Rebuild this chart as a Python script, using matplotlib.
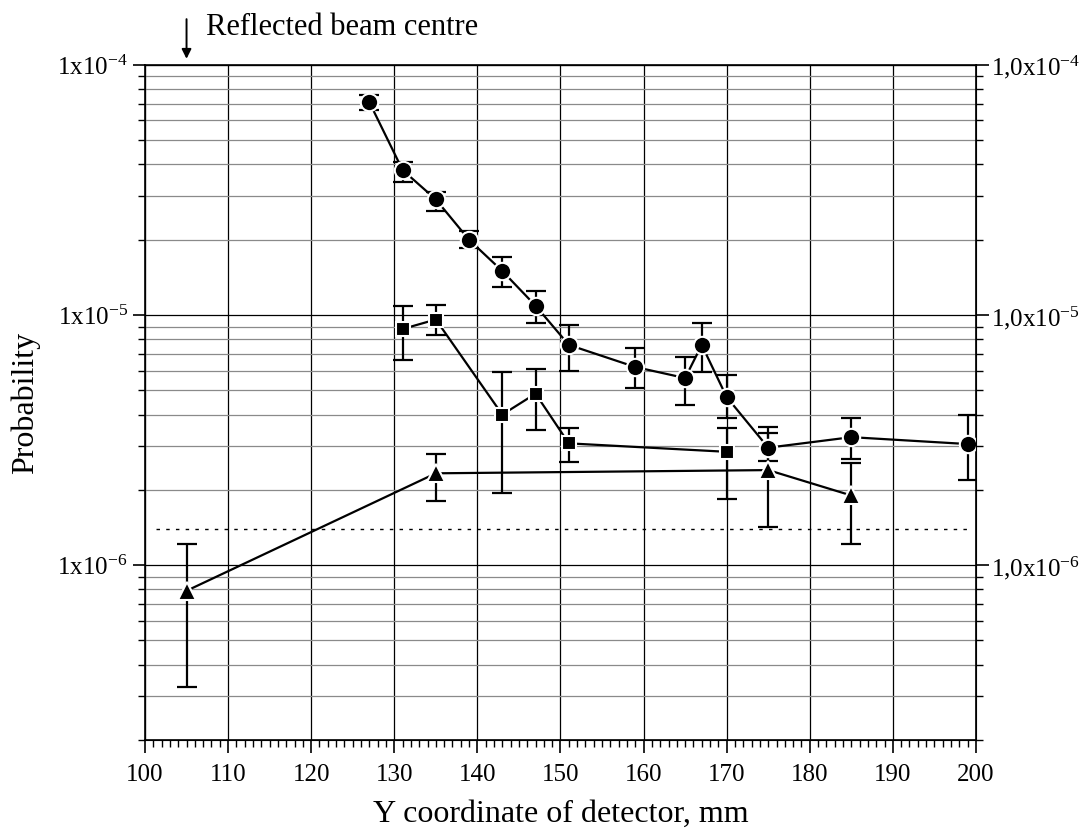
import numpy as np
import matplotlib
matplotlib.use('Agg')
import matplotlib.pyplot as plt
from matplotlib.ticker import LogLocator, NullFormatter, FixedLocator, FixedFormatter, MultipleLocator

plt.rcParams['font.family'] = ['Liberation Serif', 'DejaVu Serif']
plt.rcParams['mathtext.fontset'] = 'custom'
plt.rcParams['mathtext.rm'] = 'Liberation Serif'
plt.rcParams['mathtext.it'] = 'Liberation Serif:italic'

# circles
circ_x = [127, 131, 135, 139, 143, 147, 151, 159, 165, 167, 170, 175, 185, 199]
circ_y = [7.1e-5, 3.8e-5, 2.9e-5, 2.0e-5, 1.5e-5, 1.09e-5, 7.6e-6, 6.2e-6, 5.6e-6, 7.6e-6, 4.7e-6, 2.95e-6, 3.25e-6, 3.05e-6]
circ_hi = [7.6e-5, 4.1e-5, 3.1e-5, 2.17e-5, 1.71e-5, 1.25e-5, 9.1e-6, 7.37e-6, 6.8e-6, 9.3e-6, 5.75e-6, 3.58e-6, 3.86e-6, 3.98e-6]
circ_lo = [6.6e-5, 3.4e-5, 2.6e-5, 1.85e-5, 1.29e-5, 0.93e-5, 6.0e-6, 5.1e-6, 4.36e-6, 5.9e-6, 3.89e-6, 2.6e-6, 2.66e-6, 2.2e-6]

# squares
sq_x = [131, 135, 143, 147, 151, 170]
sq_y = [8.8e-6, 9.6e-6, 4.0e-6, 4.85e-6, 3.07e-6, 2.84e-6]
sq_hi = [1.09e-5, 1.1e-5, 5.9e-6, 6.1e-6, 3.55e-6, 3.55e-6]
sq_lo = [6.6e-6, 8.3e-6, 1.95e-6, 3.47e-6, 2.59e-6, 1.84e-6]

# triangles
tri_x = [105, 135, 175, 185]
tri_y = [7.9e-7, 2.33e-6, 2.4e-6, 1.9e-6]
tri_hi = [1.22e-6, 2.78e-6, 3.37e-6, 2.57e-6]
tri_lo = [3.27e-7, 1.81e-6, 1.42e-6, 1.22e-6]

# dotted level
level = 1.4e-6
level_x = [101.3, 199.5]

beam_x = 105

fig = plt.figure(figsize=(10.82, 8.34), dpi=100)
ax = fig.add_axes([0.134, 0.1127, 0.768, 0.8094])
ax.set_yscale('log')
ax.set_xlim(100, 200)
ax.set_ylim(2e-7, 1e-4)

# grid
ax.yaxis.set_major_locator(FixedLocator([1e-6, 1e-5, 1e-4]))
ax.yaxis.set_minor_locator(LogLocator(base=10, subs=np.arange(2, 10)))
ax.yaxis.set_minor_formatter(NullFormatter())
ax.yaxis.set_major_formatter(FixedFormatter([r'1x10$^{-6}$', r'1x10$^{-5}$', r'1x10$^{-4}$']))
ax.xaxis.set_major_locator(MultipleLocator(10))
ax.xaxis.set_minor_locator(MultipleLocator(1))
ax.grid(True, which='major', axis='both', color='black', lw=0.9)
ax.grid(True, which='minor', axis='y', color='#8a8a8a', lw=0.9)
ax.set_axisbelow(True)

ax.tick_params(which='major', direction='out', length=9, width=1.2, labelsize=18, colors='black')
ax.tick_params(which='minor', direction='out', length=5, width=1.0)
ax.tick_params(axis='x', which='major', pad=8)

def draw(x, y, hi, lo, marker, ms):
    y = np.array(y); hi = np.array(hi); lo = np.array(lo)
    err = [y - lo, hi - y]
    ax.errorbar(x, y, yerr=err, fmt='-', color='black', lw=1.6, elinewidth=1.6,
                capsize=7, capthick=1.6, zorder=3)
    ax.plot(x, y, linestyle='none', marker=marker, ms=ms, color='black',
            mec='white', mew=1.5, zorder=4)

draw(circ_x, circ_y, circ_hi, circ_lo, 'o', 12.5)
draw(sq_x, sq_y, sq_hi, sq_lo, 's', 10)
draw(tri_x, tri_y, tri_hi, tri_lo, '^', 13)

ax.plot(level_x, [level, level], linestyle=(0, (2.5, 4.5)), color='black', lw=1.0, zorder=2)

for sp in ax.spines.values():
    sp.set_linewidth(1.2)

# right axis
ax2 = ax.twinx()
ax2.set_yscale('log')
ax2.set_ylim(2e-7, 1e-4)
ax2.yaxis.set_major_locator(FixedLocator([1e-6, 1e-5, 1e-4]))
ax2.yaxis.set_minor_locator(LogLocator(base=10, subs=np.arange(2, 10)))
ax2.yaxis.set_minor_formatter(NullFormatter())
ax2.yaxis.set_major_formatter(FixedFormatter([r'1,0x10$^{-6}$', r'1,0x10$^{-5}$', r'1,0x10$^{-4}$']))
ax2.tick_params(which='major', direction='out', length=9, width=1.2, labelsize=18, pad=2)
ax2.tick_params(which='minor', direction='out', length=5, width=1.0)

ax.set_xlabel('Y coordinate of detector, mm', fontsize=23, labelpad=10)
ax.set_ylabel('Probability', fontsize=23, labelpad=12)

ax.annotate('', xy=(beam_x, 1.005), xycoords=('data', 'axes fraction'),
            xytext=(beam_x, 1.072), textcoords=('data', 'axes fraction'),
            arrowprops=dict(arrowstyle='-|>', color='black', lw=1.4, mutation_scale=14),
            annotation_clip=False)
ax.text(107.4, 1.055, 'Reflected beam centre', transform=ax.get_xaxis_transform(),
        fontsize=22, va='center', ha='left')

fig.savefig('out.png', dpi=100)
